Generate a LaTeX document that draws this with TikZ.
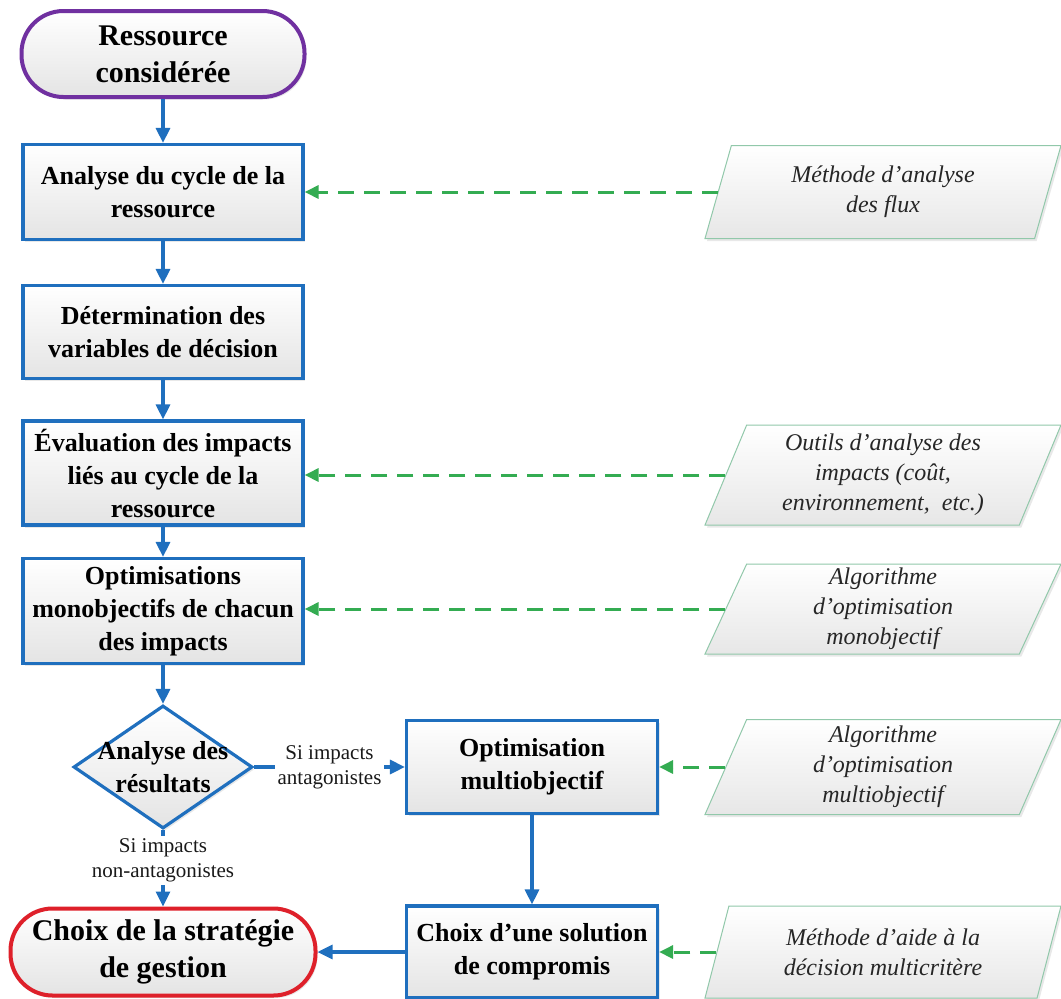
\documentclass[tikz,border=0pt]{standalone}
\usepackage{fontspec}
\setmainfont{Liberation Serif}
\usetikzlibrary{shapes.geometric,arrows.meta,shadows}
\definecolor{flowblue}{RGB}{31,111,190}
\definecolor{startpurple}{RGB}{112,48,160}
\definecolor{endred}{RGB}{222,32,42}
\definecolor{toolgreen}{RGB}{145,200,170}
\definecolor{dashgreen}{RGB}{52,172,82}
\definecolor{boxfill}{RGB}{228,228,228}
\tikzset{
  softshadow/.style={drop shadow={opacity=0.18,shadow xshift=2pt,shadow yshift=-2.5pt}},
  stepbox/.style={draw=flowblue,line width=3.2pt,top color=white,bottom color=boxfill,
    softshadow,align=center,inner sep=0pt,
    font=\fontsize{26}{33}\selectfont\bfseries},
  terminal/.style={line width=4pt,rounded corners=42pt,top color=white,bottom color=boxfill,
    softshadow,align=center,inner sep=0pt,font=\fontsize{30}{37}\selectfont\bfseries},
  decision/.style={shape=diamond,draw=flowblue,line width=3.2pt,top color=white,
    bottom color=boxfill,inner sep=0pt,softshadow},
  tool/.style={shape=trapezium,trapezium left angle=63,trapezium right angle=117,
    trapezium stretches body,draw=toolgreen,line width=1pt,top color=white,
    bottom color=boxfill!90,softshadow,align=center,inner sep=0pt,text=black!85,
    font=\fontsize{24}{30}\selectfont\itshape},
  flow/.style={draw=flowblue,line width=3.2pt,-{Triangle[length=15pt,width=14pt]}},
  feed/.style={draw=dashgreen,line width=3pt,dash pattern=on 16pt off 10pt,
    -{Triangle[length=14pt,width=13pt]}},
  branch/.style={fill=white,inner sep=3pt,align=center,text=black!90,
    font=\fontsize{21}{25}\selectfont},
}
\begin{document}
\begin{tikzpicture}[x=1pt,y=-1pt]
\useasboundingbox[fill=white] (0,0) rectangle (1061,999);

% main chain
\node[terminal,draw=startpurple,minimum width=283,minimum height=86] (start) at (163,54)
  {Ressource\\considérée};
\node[stepbox,minimum width=280,minimum height=95] (cycle) at (163,192)
  {Analyse du cycle de la\\ressource};
\node[stepbox,minimum width=280,minimum height=93] (vars) at (163,332)
  {Détermination des\\variables de décision};
\node[stepbox,minimum width=280,minimum height=104] (impacts) at (163,473)
  {Évaluation des impacts\\liés au cycle de la\\ressource};
\node[stepbox,minimum width=280,minimum height=105] (mono) at (163,611)
  {Optimisations\\monobjectifs de chacun\\des impacts};
\node[decision,minimum width=179,minimum height=123] (test) at (163,767) {};
\node[align=center,inner sep=0pt,font=\fontsize{26}{33}\selectfont\bfseries] (testtext)
  at (163,767) {Analyse des\\résultats};
\node[stepbox,minimum width=251,minimum height=93] (multi) at (532,767)
  {Optimisation\\multiobjectif};
\node[stepbox,minimum width=251,minimum height=92] (compromis) at (532,952)
  {Choix d’une solution\\de compromis};
\node[terminal,draw=endred,minimum width=305,minimum height=87] (strategy) at (163,952)
  {Choix de la stratégie\\de gestion};

% supporting tools
\node[tool,minimum width=356,minimum height=93] (tflux) at (883,192)
  {Méthode d’analyse\\des flux};
\node[tool,minimum width=356,minimum height=100] (timp) at (883,475)
  {Outils d’analyse des\\impacts (coût,\\environnement,\ \ etc.)};
\node[tool,minimum width=356,minimum height=90] (tmono) at (883,609)
  {Algorithme\\d’optimisation\\monobjectif};
\node[tool,minimum width=356,minimum height=95] (tmulti) at (883,767)
  {Algorithme\\d’optimisation\\multiobjectif};
\node[tool,minimum width=356,minimum height=92] (tdec) at (883,952)
  {Méthode d’aide à la\\décision multicritère};

% flow connectors
\draw[flow] (start) -- (cycle);
\draw[flow] (cycle) -- (vars);
\draw[flow] (vars) -- (impacts);
\draw[flow] (impacts) -- (mono);
\draw[flow] (mono) -- (test);
\draw[flow] (test.east) -- node[branch] (yes) {Si impacts\\antagonistes} (multi.west);
\draw[flow] (test.south) -- node[branch,pos=0.4] (no) {Si impacts\\non-antagonistes} (strategy.north);
\draw[flow] (multi) -- (compromis);
\draw[flow] (compromis) -- (strategy);

% tool feeds
\draw[feed] (tflux.west) -- (tflux.west -| cycle.east);
\draw[feed] (timp.west) -- (timp.west -| impacts.east);
\draw[feed] (tmono.west) -- (tmono.west -| mono.east);
\draw[feed] (tmulti.west) -- (tmulti.west -| multi.east);
\draw[feed] (tdec.west) -- (tdec.west -| compromis.east);
\end{tikzpicture}
\end{document}
